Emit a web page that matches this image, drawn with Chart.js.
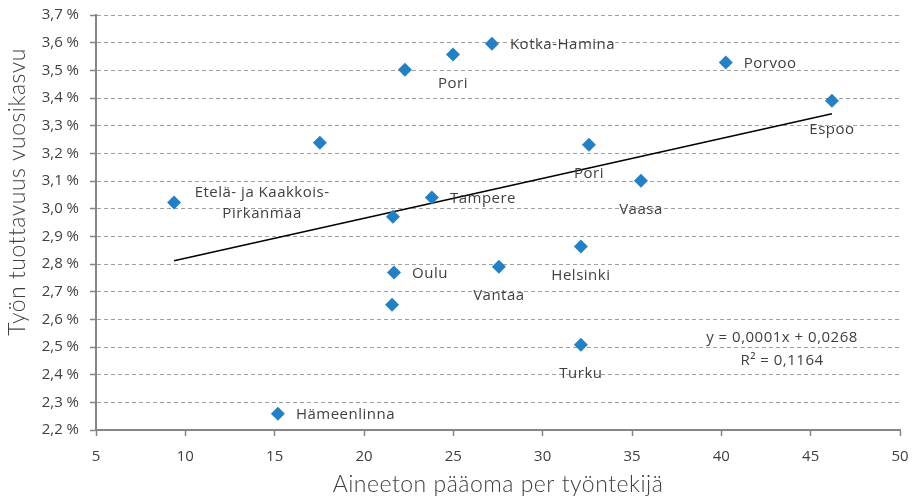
<!DOCTYPE html>
<html>
<head>
<meta charset="utf-8">
<script src="https://cdn.jsdelivr.net/npm/chart.js@4.4.1/dist/chart.umd.min.js"></script>
<style>
  html, body { margin: 0; padding: 0; background: #fff; }
  #wrap { width: 912px; height: 500px; }
</style>
</head>
<body>
<div id="wrap"><canvas id="chart"></canvas></div>
<script>
// region names, '' = point without a label
const names = [
  'Etelä- ja Kaakkois-\nPirkanmaa', 'Hämeenlinna', '', '', 'Pori', 'Kotka-Hamina',
  '', 'Tampere', 'Oulu', '', 'Vantaa', 'Helsinki', 'Turku', 'Pori', 'Vaasa',
  'Porvoo', 'Espoo'
];
// aineeton pääoma per työntekijä
const capital = [9.37, 15.18, 17.53, 22.29, 24.98, 27.16, 21.62, 23.80, 21.68, 21.57,
  27.55, 32.14, 32.14, 32.59, 35.50, 40.25, 46.19];
// työn tuottavuus vuosikasvu, %
const growth = [3.022, 2.259, 3.238, 3.502, 3.557, 3.596, 2.971, 3.040, 2.769, 2.653,
  2.790, 2.863, 2.508, 3.231, 3.101, 3.528, 3.390];
// linear trend line ends
const trendX = [9.37, 46.19];
const trendY = [2.812, 3.343];
const trendText = ['y = 0,0001x + 0,0268', 'R² = 0,1164'];
const xTitle = 'Aineeton pääoma per työntekijä';
const yTitle = 'Työn tuottavuus vuosikasvu';

// where each label sits relative to its point (style only)
const labelSide = ['wrap', 'right', '', '', 'below', 'right', '', 'right', 'right', '',
  'below', 'below', 'below', 'below', 'below', 'right', 'below'];

const txtColor = '#404040';
const labelFont = '15px "Open Sans"';
const titleFont = '300 23px Lato';

const labelsPlugin = {
  id: 'pointLabels',
  afterDatasetsDraw(chart) {
    const ctx = chart.ctx;
    const pts = chart.getDatasetMeta(0).data;
    ctx.save();
    ctx.font = labelFont;
    ctx.fillStyle = txtColor;
    ctx.letterSpacing = '0.5px';
    ctx.textBaseline = 'middle';
    pts.forEach((p, i) => {
      const txt = names[i];
      if (!txt) return;
      const side = labelSide[i];
      if (side === 'right') {
        ctx.textAlign = 'left';
        ctx.fillText(txt, p.x + 18, p.y + 1);
      } else if (side === 'below') {
        ctx.textAlign = 'center';
        ctx.fillText(txt, p.x, p.y + 29);
      } else if (side === 'wrap') {
        ctx.textAlign = 'center';
        txt.split('\n').forEach((line, k) => ctx.fillText(line, p.x + 88, p.y - 10 + k * 21));
      }
    });
    // trend equation
    ctx.textAlign = 'center';
    trendText.forEach((line, k) => ctx.fillText(line, 782, 338 + k * 23));
    ctx.restore();
  },
  afterDraw(chart) {
    const ctx = chart.ctx;
    const a = chart.chartArea;
    ctx.save();
    ctx.font = titleFont;
    ctx.fillStyle = txtColor;
    ctx.letterSpacing = '0.5px';
    ctx.textAlign = 'center';
    ctx.textBaseline = 'middle';
    ctx.fillText(xTitle, (a.left + a.right) / 2, 485);
    ctx.translate(18, 192);
    ctx.rotate(-Math.PI / 2);
    ctx.fillText(yTitle, 0, 0);
    ctx.restore();
  }
};

new Chart(document.getElementById('chart'), {
  type: 'scatter',
  data: {
    datasets: [
      {
        data: capital.map((x, i) => ({ x, y: growth[i] })),
        pointStyle: 'rectRot',
        pointRadius: 7,
        pointHoverRadius: 7,
        backgroundColor: '#2580C3',
        borderColor: '#2580C3',
        borderWidth: 0
      },
      {
        data: trendX.map((x, i) => ({ x, y: trendY[i] })),
        showLine: true,
        pointRadius: 0,
        borderColor: '#000',
        borderWidth: 1.5
      }
    ]
  },
  options: {
    responsive: true,
    maintainAspectRatio: false,
    animation: false,
    layout: { padding: { top: 15, right: 12, left: 0, bottom: 0 } },
    plugins: { legend: { display: false }, tooltip: { enabled: false } },
    scales: {
      x: {
        min: 5, max: 50,
        afterFit: s => { s.height = 70; s.paddingLeft = 0; s.paddingRight = 0; },
        ticks: { stepSize: 5, color: txtColor, font: { family: 'Open Sans', size: 15 }, padding: 12, maxRotation: 0 },
        grid: { drawOnChartArea: false, tickLength: 6, tickColor: '#868686', tickWidth: 1.5 },
        border: { color: '#868686', width: 2 }
      },
      y: {
        min: 2.2, max: 3.7,
        afterFit: s => { s.width = 96; s.paddingTop = 0; s.paddingBottom = 0; },
        ticks: {
          stepSize: 0.1, color: txtColor, font: { family: 'Open Sans', size: 15 }, padding: 11,
          callback: v => v.toFixed(1).replace('.', ',') + ' %'
        },
        grid: { color: '#A0A0A0', lineWidth: 1, tickLength: 6, tickColor: '#868686', tickWidth: 1.5 },
        border: { color: '#868686', width: 2, dash: [4, 3] }
      }
    }
  },
  plugins: [labelsPlugin]
});
</script>
</body>
</html>
